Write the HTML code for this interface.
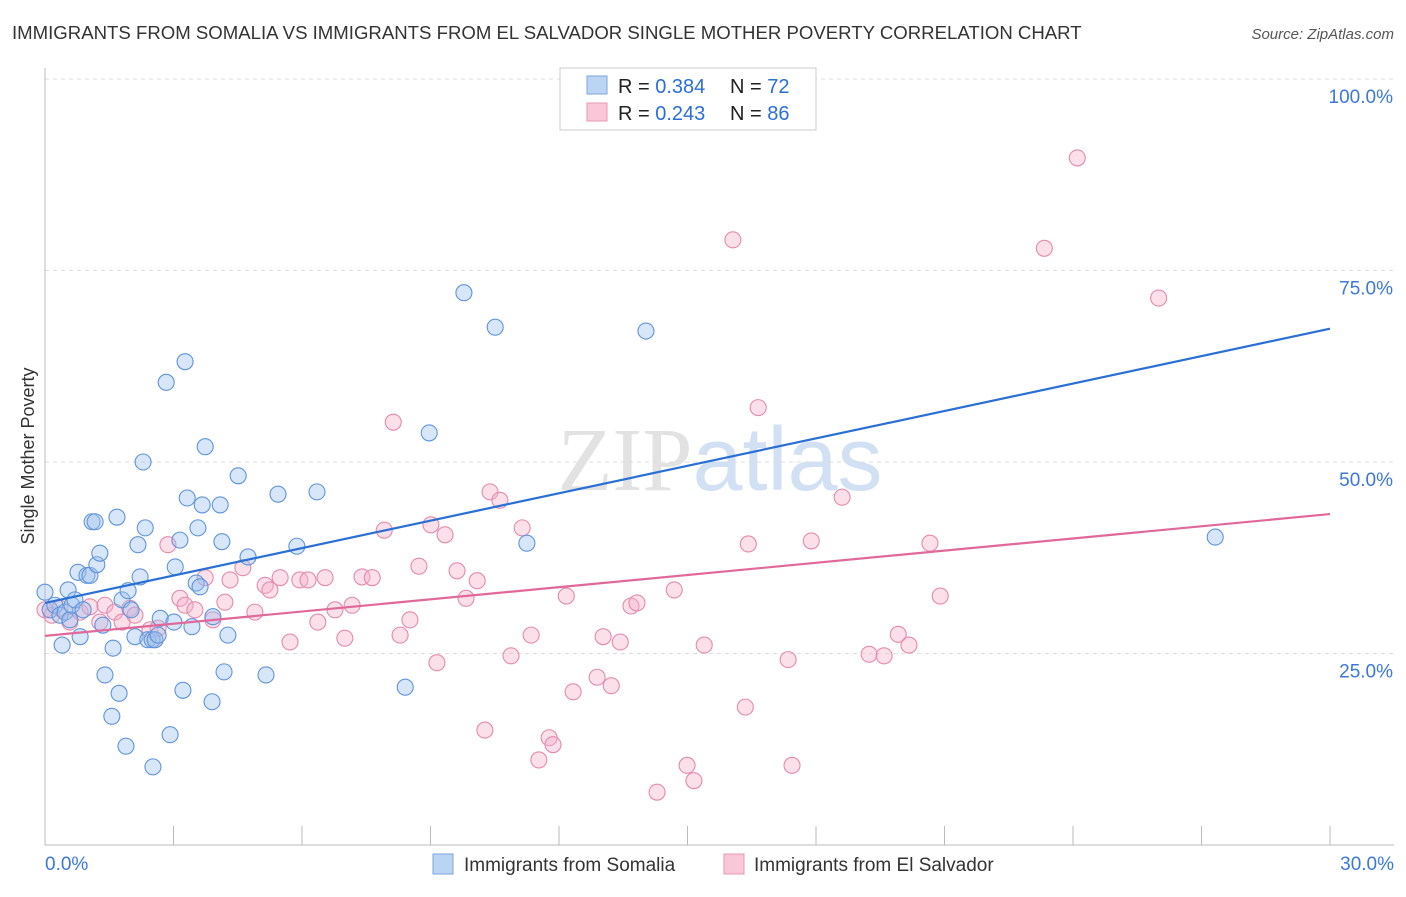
<!DOCTYPE html>
<html><head><meta charset="utf-8"><style>
body{margin:0;background:#fff;font-family:"Liberation Sans",sans-serif}
</style></head><body>
<svg width="1406" height="892" xmlns="http://www.w3.org/2000/svg" font-family="Liberation Sans, sans-serif">
<text x="12" y="39" font-size="18.6" fill="#333">IMMIGRANTS FROM SOMALIA VS IMMIGRANTS FROM EL SALVADOR SINGLE MOTHER POVERTY CORRELATION CHART</text>
<text x="1394" y="39" font-size="15" fill="#555" font-style="italic" text-anchor="end">Source: ZipAtlas.com</text>
<text x="720" y="490" font-size="90" text-anchor="middle" fill="#e2e2e2" font-family="Liberation Serif, serif">ZIP<tspan fill="#d2e0f3" font-family="Liberation Sans, sans-serif">atlas</tspan></text>
<g id="grid"></g>
<g id="marks"></g>
<text transform="translate(34,456) rotate(-90)" font-size="18" fill="#333" text-anchor="middle">Single Mother Poverty</text>
<g>
<rect x="560" y="68" width="256" height="62" fill="#fff" stroke="#ccc"/>
<rect x="587" y="76" width="20" height="18" fill="#bcd4f4" stroke="#7aa6e0"/>
<rect x="587" y="103" width="20" height="18" fill="#f9c8d8" stroke="#e89ab6"/>
<text x="618" y="93" font-size="20" fill="#222">R = <tspan fill="#2a6fd6">0.384</tspan></text>
<text x="730" y="93" font-size="20" fill="#222">N = <tspan fill="#2a6fd6">72</tspan></text>
<text x="618" y="120" font-size="20" fill="#222">R = <tspan fill="#2a6fd6">0.243</tspan></text>
<text x="730" y="120" font-size="20" fill="#222">N = <tspan fill="#2a6fd6">86</tspan></text>
</g>
<g>
<rect x="433" y="854" width="20" height="20" fill="#bcd4f4" stroke="#7aa6e0"/>
<text x="464" y="871" font-size="19" fill="#333">Immigrants from Somalia</text>
<rect x="724" y="854" width="20" height="20" fill="#f9c8d8" stroke="#e89ab6"/>
<text x="754" y="871" font-size="19" fill="#333">Immigrants from El Salvador</text>
</g>
</svg>
<script>
const somaliaX=[0.00,0.12,0.23,0.35,0.40,0.47,0.54,0.58,0.63,0.70,0.77,0.82,0.89,0.98,1.05,1.10,1.17,1.21,1.28,1.35,1.40,1.56,1.59,1.68,1.73,1.80,1.89,1.94,2.01,2.10,2.17,2.22,2.29,2.34,2.40,2.50,2.52,2.57,2.64,2.69,2.83,2.92,3.01,3.04,3.15,3.22,3.27,3.32,3.43,3.53,3.57,3.62,3.67,3.74,3.90,3.92,4.09,4.13,4.18,4.27,4.51,4.74,5.16,5.44,5.88,6.35,8.41,8.97,9.78,10.51,11.25,14.03,27.32];
const somaliaY=[33.0,30.7,31.3,30.0,26.1,30.4,33.3,29.4,31.3,32.0,35.6,27.2,30.7,35.2,35.2,42.2,42.2,36.6,38.1,28.7,22.2,16.8,25.7,42.8,19.8,32.0,12.9,33.2,30.7,27.2,39.2,35.0,50.0,41.4,26.8,26.8,10.2,26.8,27.4,29.6,60.4,14.4,29.1,36.3,39.8,20.2,63.1,45.3,28.5,34.2,41.4,33.7,44.4,52.0,18.7,29.8,44.4,39.6,22.6,27.4,48.2,37.6,22.2,45.8,39.0,46.1,20.6,53.8,72.1,67.6,39.4,67.1,40.2];
const salvadorX=[0.00,0.16,0.35,0.58,0.82,1.05,1.28,1.40,1.63,1.80,1.98,2.10,2.45,2.57,2.64,2.87,3.15,3.27,3.50,3.74,3.92,4.20,4.32,4.62,4.90,5.14,5.25,5.49,5.72,5.95,6.14,6.37,6.54,6.77,7.00,7.17,7.40,7.64,7.92,8.13,8.29,8.52,8.73,9.01,9.15,9.34,9.62,9.83,10.09,10.27,10.39,10.62,10.88,11.14,11.35,11.53,11.77,11.86,12.17,12.33,12.89,13.03,13.22,13.43,13.68,13.82,14.29,14.69,14.99,15.15,15.39,16.06,16.35,16.42,16.65,17.35,17.44,17.89,18.61,19.24,19.59,19.92,20.17,20.66,20.90,23.33,24.10,26.00];
const salvadorY=[30.7,30.0,30.9,29.1,30.4,31.1,29.1,31.3,30.4,29.1,30.9,30.0,28.1,26.8,28.3,39.2,32.2,31.3,30.7,34.9,29.4,31.7,34.6,36.2,30.4,33.9,33.3,34.9,26.5,34.6,34.6,29.1,34.9,30.7,27.0,31.3,35.0,34.9,41.1,55.2,27.4,29.4,36.4,41.8,23.8,40.5,35.8,32.2,34.5,15.0,46.1,45.0,24.7,41.4,27.4,11.1,14.0,13.1,32.5,20.0,21.9,27.2,20.8,26.5,31.2,31.6,6.9,33.3,10.4,8.4,26.1,79.0,18.0,39.3,57.1,24.2,10.4,39.7,45.4,24.9,24.7,27.5,26.1,39.4,32.5,77.9,89.7,71.4];
const trendSomalia=[31.6,67.4];
const trendSalvador=[27.3,43.2];
const yTicks=[25,50,75,100];
const yTickLabels=["25.0%","50.0%","75.0%","100.0%"];
const xTickCount=10;
const xLabels=["0.0%","30.0%"];
const NS="http://www.w3.org/2000/svg";
const X=v=>45+v/30*1285, Y=v=>845-v/100*766;
function mk(t,a,p){const e=document.createElementNS(NS,t);for(const k in a)e.setAttribute(k,a[k]);p.appendChild(e);return e;}
const g=document.getElementById('grid'), m=document.getElementById('marks');
yTicks.forEach((t,i)=>{
  const l=mk('line',{x1:45,x2:1394,y1:Y(t),y2:Y(t),stroke:'#ddd','stroke-dasharray':'4,4'},g);
  
  
  const tx=mk('text',{x:1393,y:Y(t)+24,'font-size':19,fill:'#3b78d8','text-anchor':'end'},g);
  tx.textContent=yTickLabels[i];
  
  
});
const ax=mk('line',{x1:45,x2:45,y1:68,y2:845,stroke:'#bbb'},g);


const bx=mk('line',{x1:45,x2:1394,y1:845,y2:845,stroke:'#bbb'},g);


for(let i=0;i<=xTickCount;i++){
  const v=i*30/xTickCount;
  const t=mk('line',{x1:X(v),x2:X(v),y1:826,y2:845,stroke:'#bbb'},g);
  
  
}
[[0,'start',xLabels[0]],[30,'end',xLabels[1]]].forEach(([v,a,s])=>{
  const x=v===0?X(0):1394;
  const tx=mk('text',{x:x,y:870,'font-size':19,fill:'#3b78d8','text-anchor':a},g);
  tx.textContent=s;
  
  
});
function pts(xs,ys,fill,stroke,name){
  xs.forEach((x,i)=>{
    const c=mk('circle',{cx:X(x),cy:Y(ys[i]),r:8,fill:fill,'fill-opacity':0.4,stroke:stroke,'stroke-width':1.1},m);
    
    
  });
}
pts(salvadorX,salvadorY,'#f4b0c8','#e58aac','point-el-salvador');
pts(somaliaX,somaliaY,'#9cc0ee','#5f94dc','point-somalia');
const l1=mk('line',{x1:X(0),y1:Y(trendSomalia[0]),x2:X(30),y2:Y(trendSomalia[1]),stroke:'#2a6fd6','stroke-width':2.2},m);


const l2=mk('line',{x1:X(0),y1:Y(trendSalvador[0]),x2:X(30),y2:Y(trendSalvador[1]),stroke:'#e0689a','stroke-width':2.2},m);


</script>
</body></html>
